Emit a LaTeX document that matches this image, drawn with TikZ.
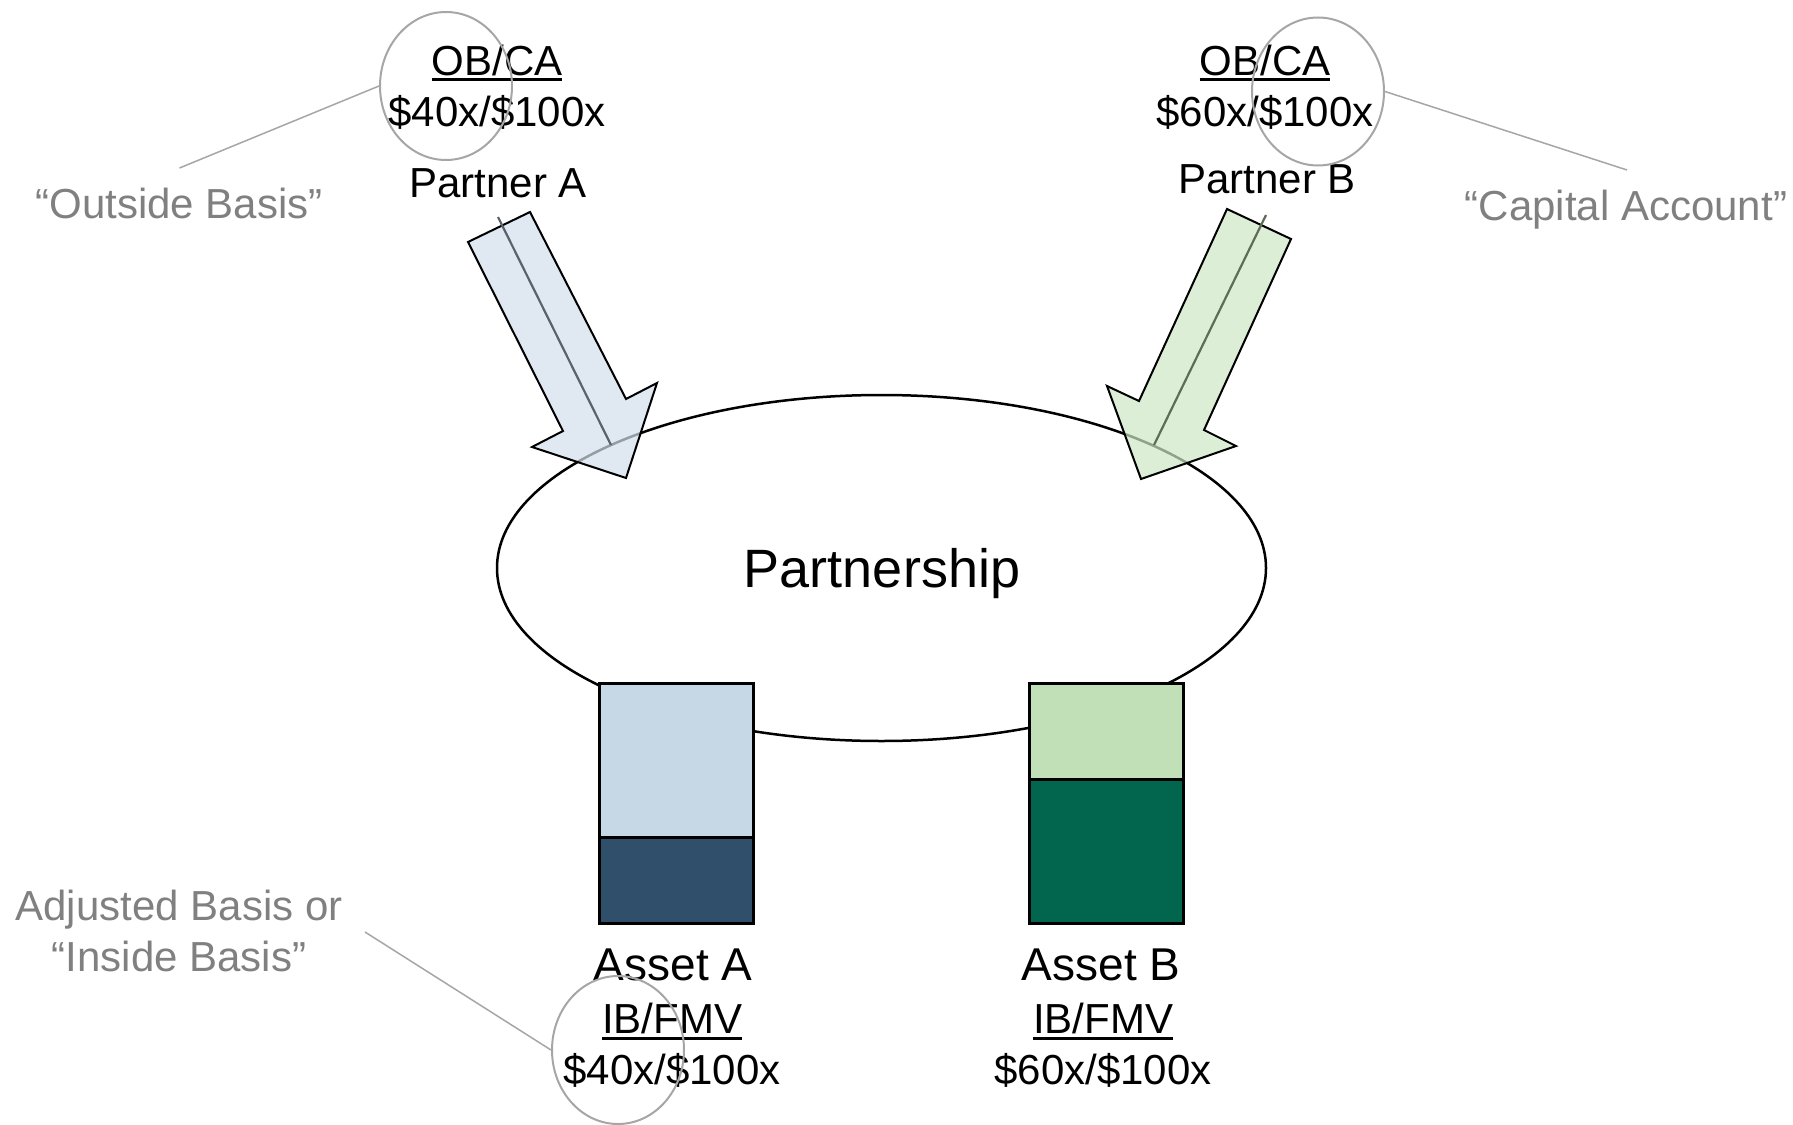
\documentclass[tikz,border=0pt]{standalone}
\usepackage{fontspec}
\setmainfont{Liberation Sans}
\usetikzlibrary{shapes.geometric}
\definecolor{arrAfill}{HTML}{D3DFEB}
\definecolor{arrBfill}{HTML}{CEE7C4}
\definecolor{boxAlight}{HTML}{C6D8E6}
\definecolor{boxAdark}{HTML}{2F4F6B}
\definecolor{boxBlight}{HTML}{C1E0B7}
\definecolor{boxBdark}{HTML}{02664F}
\definecolor{calloutgray}{HTML}{A6A6A6}
\definecolor{labelgray}{HTML}{808080}
\definecolor{midlineA}{HTML}{5A636B}
\definecolor{midlineB}{HTML}{5E6C58}
\newcommand\myul[1]{\setbox0\hbox{#1}\rlap{\rule[-6.5pt]{\wd0}{3pt}}\box0}
\newcommand\fsmall{\fontsize{42}{50}\selectfont}
\newcommand\fasset{\fontsize{46}{54}\selectfont}
\newcommand\fbig{\fontsize{54}{62}\selectfont}
\begin{document}
\begin{tikzpicture}[x=1pt,y=-1pt,
  txt/.style={anchor=base, inner sep=0pt, font=\fsmall, text=black},
  note/.style={anchor=base, inner sep=0pt, font=\fsmall, text=labelgray},
  callout/.style={ellipse, draw=calloutgray, line width=2pt, minimum width=132pt, minimum height=148pt, inner sep=0pt},
  leader/.style={draw=calloutgray, line width=1.5pt},
  bigarrow/.style={draw=black, line width=2pt, line join=miter, fill opacity=0.7},
  midstroke/.style={line width=2.2pt},
  assetbox/.style={draw=black, line width=2.5pt, anchor=north west, inner sep=0pt, minimum width=154pt},
]
\useasboundingbox (0,0) rectangle (1793,1124);

% partnership ellipse
\node[ellipse, draw=black, line width=2.5pt, minimum width=769pt, minimum height=346pt, inner sep=0pt] (ptn) at (881.5,568) {};
\node[anchor=base, inner sep=0pt, font=\fbig] (ptnlabel) at (882,587) {Partnership};

% center lines of arrows
\coordinate (aS) at (498,217);
\coordinate (aE) at (611,445);
\coordinate (bS) at (1266,215);
\coordinate (bE) at (1154,445);

% big arrows
\filldraw[bigarrow, fill=arrAfill] (468,242) -- (530,212) -- (626,399) -- (657,383) -- (626,478) -- (532,447) -- (563,431) -- cycle;
\filldraw[bigarrow, fill=arrBfill] (1227,209) -- (1291,239) -- (1204,430) -- (1236,446) -- (1141,479) -- (1107,386) -- (1139,401) -- cycle;
\draw[midstroke, draw=midlineA] (aS) -- (aE);
\draw[midstroke, draw=midlineB] (bS) -- (bE);

% asset boxes
\node[assetbox, fill=boxAlight, minimum height=154pt] (aTop) at (598,682) {};
\node[assetbox, fill=boxAdark, minimum height=86pt] (aBot) at (598,836) {};
\node[assetbox, fill=boxBlight, minimum height=96pt] (bTop) at (1028,682) {};
\node[assetbox, fill=boxBdark, minimum height=144pt] (bBot) at (1028,778) {};

% partner texts
\node[txt] (obA) at (497,75) {\myul{OB/CA}};
\node[txt] (valA) at (497,126) {\$40x/\$100x};
\node[txt] (pA) at (498,197) {Partner A};
\node[txt] (obB) at (1265,75) {\myul{OB/CA}};
\node[txt] (valB) at (1265,126) {\$60x/\$100x};
\node[txt] (pB) at (1267,193) {Partner B};

% asset texts
\node[anchor=base, inner sep=0pt, font=\fasset] (assetA) at (673,980) {Asset A};
\node[txt] (ibA) at (672,1033) {\myul{IB/FMV}};
\node[txt] (ivA) at (672,1084) {\$40x/\$100x};
\node[anchor=base, inner sep=0pt, font=\fasset] (assetB) at (1101,980) {Asset B};
\node[txt] (ibB) at (1103,1033) {\myul{IB/FMV}};
\node[txt] (ivB) at (1103,1084) {\$60x/\$100x};

% callout circles
\node[callout] (cA) at (446,86) {};
\node[callout] (cB) at (1318,91.5) {};
\node[callout] (cI) at (618,1050) {};

% callout labels
\node[note] (nOut) at (179,218) {“Outside Basis”};
\node[note] (nCap) at (1626,220) {“Capital Account”};
\node[note] (nAdj) at (179,920) {Adjusted Basis or};
\node[note] (nIns) at (179,971) {“Inside Basis”};

\coordinate (lOut) at (179.5,168);
\coordinate (lCap) at (1627,170);
\coordinate (lIns) at (365,932);
\draw[leader] (cA.west) -- (lOut);
\draw[leader] (cB.east) -- (lCap);
\draw[leader] (cI.west) -- (lIns);
\end{tikzpicture}
\end{document}
